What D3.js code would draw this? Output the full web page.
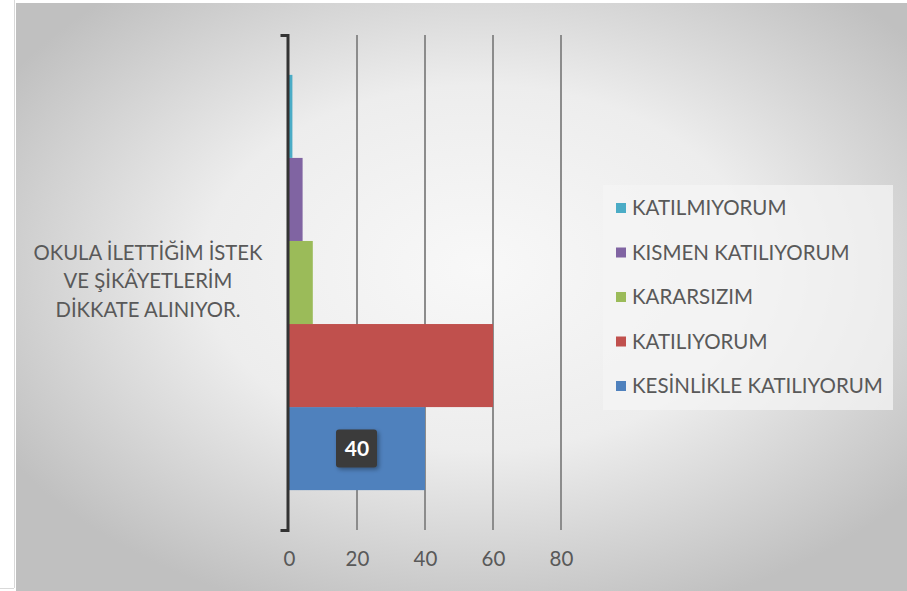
<!DOCTYPE html>
<html><head><meta charset="utf-8">
<script src="https://cdn.jsdelivr.net/npm/d3@7"></script>
<style>html,body{margin:0;padding:0;background:#fff;overflow:hidden}</style>
</head><body>
<svg id="c" width="907" height="591"></svg>
<script>
const categories = ["OKULA İLETTİĞİM İSTEK VE ŞİKÂYETLERİM DİKKATE ALINIYOR."];
const categoryLines = [["OKULA İLETTİĞİM İSTEK", "VE ŞİKÂYETLERİM", "DİKKATE ALINIYOR."]];
const seriesNames = ["KESİNLİKLE KATILIYORUM", "KATILIYORUM", "KARARSIZIM", "KISMEN KATILIYORUM", "KATILMIYORUM"];
const seriesValues = [40, 60, 7, 4, 1];
const seriesColors = ["#4f81bd", "#c0504d", "#9bbb59", "#8064a2", "#4bacc6"];
const labeledSeries = ["KESİNLİKLE KATILIYORUM"];
const xTicks = [0, 20, 40, 60, 80];

const svg = d3.select("#c");
const FONT = "Lato, 'Open Sans', sans-serif";
const txt = "#595959";

// outer frame
svg.append("line").attr("x1", 14.5).attr("x2", 14.5).attr("y1", 0).attr("y2", 588).attr("stroke", "#d9d9d9");
svg.append("line").attr("x1", 0).attr("x2", 14).attr("y1", 588.5).attr("y2", 588.5).attr("stroke", "#d9d9d9");

const defs = svg.append("defs");
const rg = defs.append("radialGradient").attr("id", "bg").attr("cx", "52%").attr("cy", "45%").attr("r", "62%");
rg.append("stop").attr("offset", "0%").attr("stop-color", "#f8f8f8");
rg.append("stop").attr("offset", "50%").attr("stop-color", "#ededed");
rg.append("stop").attr("offset", "100%").attr("stop-color", "#c0c0c0");
const sh = defs.append("filter").attr("id", "sh").attr("x", "-30%").attr("y", "-30%").attr("width", "170%").attr("height", "170%");
sh.append("feDropShadow").attr("dx", 2).attr("dy", 2).attr("stdDeviation", 2).attr("flood-color", "#000").attr("flood-opacity", 0.35);

svg.append("rect").attr("x", 16).attr("y", 3).attr("width", 891).attr("height", 588).attr("fill", "url(#bg)");

const plot = {left: 289, right: 561, top: 35, bottom: 530};
const x = d3.scaleLinear().domain([0, 80]).range([plot.left, plot.right]);
const y = d3.scaleBand().domain(categories).range([plot.bottom, plot.top]);
const inner = d3.scaleBand().domain(seriesNames.slice().reverse()).range([0, y.bandwidth()]).paddingInner(0).paddingOuter(0.48);

// gridlines
svg.append("g").selectAll("line").data(xTicks.filter(d => d > 0)).join("line")
  .attr("x1", d => x(d)).attr("x2", d => x(d)).attr("y1", plot.top).attr("y2", plot.bottom)
  .attr("stroke", "#8c8c8c").attr("stroke-width", 2);

// bars
const rows = seriesNames.map((s, i) => ({cat: categories[0], s, v: seriesValues[i], c: seriesColors[i]}));
svg.append("g").selectAll("rect").data(rows).join("rect")
  .attr("x", x(0)).attr("y", d => y(d.cat) + inner(d.s))
  .attr("width", d => x(d.v) - x(0)).attr("height", inner.bandwidth())
  .attr("fill", d => d.c);

// x axis labels
const xAxis = d3.axisBottom(x).tickValues(xTicks).tickSize(0).tickPadding(0);
const xg = svg.append("g").attr("transform", `translate(0,${plot.bottom + 29})`).call(xAxis);
xg.select(".domain").remove();
xg.selectAll("text").attr("font-family", FONT).attr("font-size", 20.5).attr("fill", txt).attr("dy", "0.35em").attr("y", 0);

// y axis
const yAxis = d3.axisLeft(y).tickValues([]).tickSizeOuter(7);
const yg = svg.append("g").attr("transform", `translate(${x(0) - 1.5},0)`).call(yAxis);
yg.select(".domain").attr("stroke", "#333").attr("stroke-width", 3).attr("fill", "none");

// category label
const cl = svg.append("text").attr("font-family", FONT).attr("font-size", 20.3).attr("fill", txt).attr("text-anchor", "middle");
categoryLines[0].forEach((ln, i) => {
  cl.append("tspan").attr("x", 148).attr("y", y(categories[0]) + y.bandwidth() / 2 - 30 + i * 28.5).attr("dy", "0.35em").text(ln);
});

// data label
rows.filter(d => labeledSeries.includes(d.s)).forEach(d => {
  const cx = (x(0) + x(d.v)) / 2, cy = y(d.cat) + inner(d.s) + inner.bandwidth() / 2;
  const g = svg.append("g");
  g.append("rect").attr("x", cx - 21).attr("y", cy - 19).attr("width", 41).attr("height", 38).attr("rx", 3)
    .attr("fill", "#3a3a3a").attr("filter", "url(#sh)");
  g.append("text").attr("x", cx).attr("y", cy).attr("dy", "0.36em").attr("text-anchor", "middle")
    .attr("font-family", FONT).attr("font-weight", "bold").attr("font-size", 21).attr("fill", "#fff").text(d.v);
});

// legend
const lg = svg.append("g");
lg.append("rect").attr("x", 603).attr("y", 185).attr("width", 290).attr("height", 225).attr("fill", "#f4f4f4").attr("fill-opacity", 0.75);
const legendItems = seriesNames.map((s, i) => ({s, c: seriesColors[i]})).reverse();
const ly = d3.scalePoint().domain(legendItems.map(d => d.s)).range([208, 386]);
legendItems.forEach(d => {
  lg.append("rect").attr("x", 616).attr("y", ly(d.s) - 5).attr("width", 10).attr("height", 10).attr("fill", d.c);
  lg.append("text").attr("x", 632).attr("y", ly(d.s)).attr("dy", "0.36em").attr("font-family", FONT)
    .attr("font-size", 20.5).attr("fill", txt).text(d.s);
});
</script>
</body></html>
